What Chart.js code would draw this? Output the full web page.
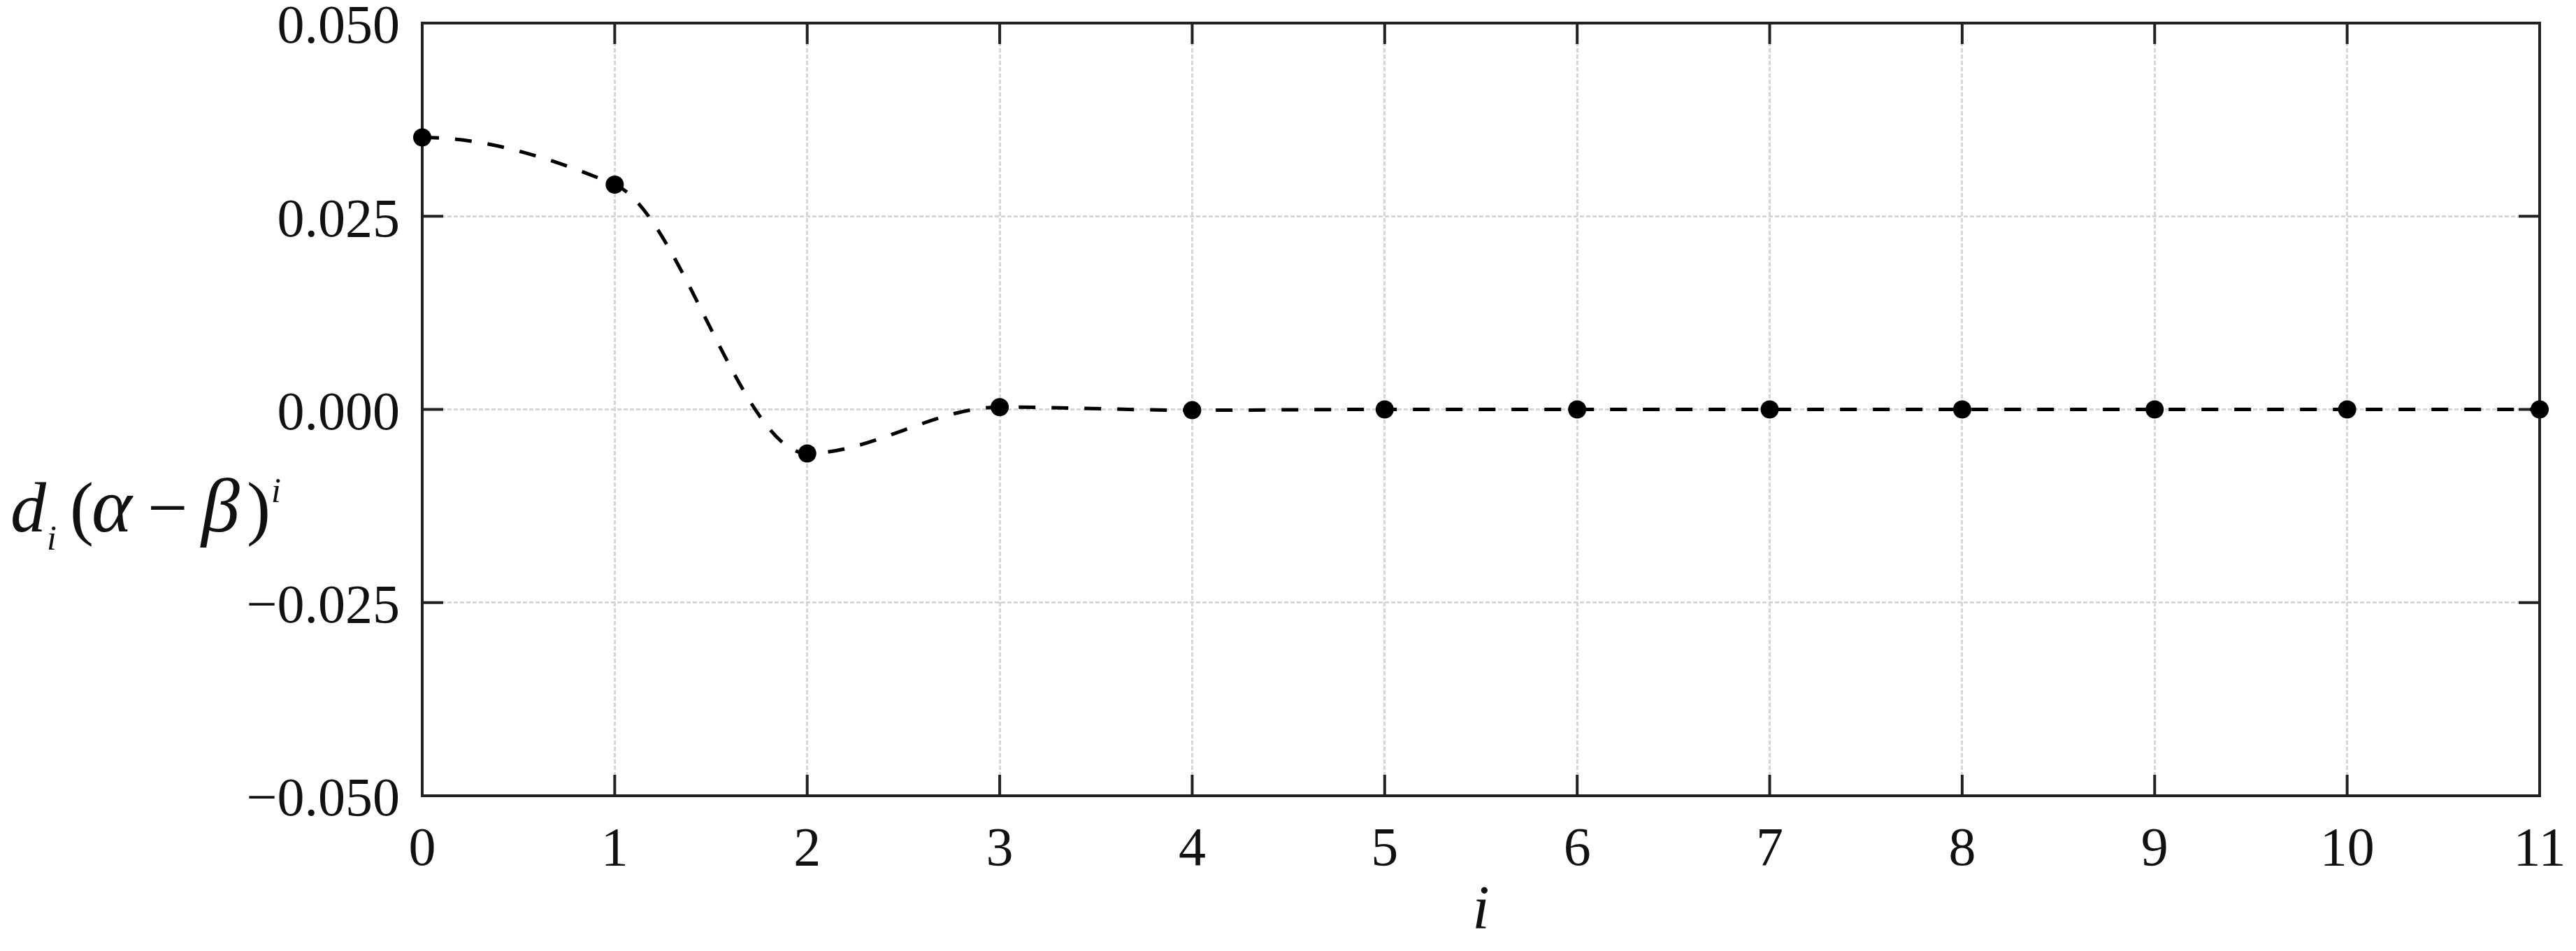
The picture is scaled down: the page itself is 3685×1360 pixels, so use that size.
<!DOCTYPE html>
<html>
<head>
<meta charset="utf-8">
<script src="https://cdn.jsdelivr.net/npm/chart.js@4.4.1/dist/chart.umd.min.js"></script>
<style>
  html, body { margin: 0; padding: 0; background: #fff; }
  #wrap { width: 3685px; height: 1360px; position: relative; }
</style>
</head>
<body>
<div id="wrap"><canvas id="myChart"></canvas></div>
<script>
// valores
const steps = ['0', '1', '2', '3', '4', '5', '6', '7', '8', '9', '10', '11'];
const values = [0.0352, 0.0291, -0.0057, 0.0003, -0.0001, 0, 0, 0, 0, 0, 0, 0];
const yTicks = [-0.050, -0.025, 0.000, 0.025, 0.050];

const SERIF = '"Liberation Serif", "Times New Roman", serif';
const INK = '#111';

// curva tipo pchip: tangentes planas en los extremos locales
const pchipPlugin = {
    id: 'pchip',
    beforeDatasetDraw(chart, args) {
        const meta = args.meta;
        const pts = meta.data;
        const n = pts.length;
        if (n < 3) return;
        const h = [], d = [];
        for (let k = 0; k < n - 1; k++) {
            h[k] = pts[k + 1].x - pts[k].x;
            d[k] = (pts[k + 1].y - pts[k].y) / h[k];
        }
        const m = new Array(n).fill(0);
        for (let k = 1; k < n - 1; k++) {
            if (d[k - 1] * d[k] > 0) {
                const w1 = 2 * h[k] + h[k - 1], w2 = h[k] + 2 * h[k - 1];
                m[k] = (w1 + w2) / (w1 / d[k - 1] + w2 / d[k]);
            }
        }
        const endSlope = (h0, h1, d0, d1) => {
            let s = ((2 * h0 + h1) * d0 - h0 * d1) / (h0 + h1);
            if (Math.sign(s) !== Math.sign(d0)) s = 0;
            else if (Math.sign(d0) !== Math.sign(d1) && Math.abs(s) > Math.abs(3 * d0)) s = 3 * d0;
            return s;
        };
        m[0] = endSlope(h[0], h[1], d[0], d[1]);
        m[n - 1] = endSlope(h[n - 2], h[n - 3], d[n - 2], d[n - 3]);
        for (let k = 0; k < n; k++) {
            const p = pts[k];
            if (k > 0) { p.cp1x = p.x - h[k - 1] / 3; p.cp1y = p.y - m[k] * h[k - 1] / 3; }
            if (k < n - 1) { p.cp2x = p.x + h[k] / 3; p.cp2y = p.y + m[k] * h[k] / 3; }
        }
        if (meta.dataset) meta.dataset._pointsUpdated = true;
    }
};

// marco completo + marcas de escala hacia dentro, y etiqueta del eje y en horizontal
const framePlugin = {
    id: 'frame',
    beforeDatasetsDraw(chart) {
        const { ctx, chartArea: a, scales: { x, y } } = chart;
        const len = 30;
        ctx.save();
        ctx.strokeStyle = '#222';
        ctx.lineWidth = 4;
        ctx.setLineDash([]);
        ctx.strokeRect(a.left, a.top, a.right - a.left, a.bottom - a.top);
        ctx.beginPath();
        x.ticks.forEach((t, i) => {
            const px = x.getPixelForTick(i);
            ctx.moveTo(px, a.bottom); ctx.lineTo(px, a.bottom - len);
            ctx.moveTo(px, a.top); ctx.lineTo(px, a.top + len);
        });
        y.ticks.forEach(t => {
            const py = y.getPixelForValue(t.value);
            ctx.moveTo(a.left, py); ctx.lineTo(a.left + len, py);
            ctx.moveTo(a.right, py); ctx.lineTo(a.right - len, py);
        });
        ctx.stroke();
        ctx.restore();
    },
    afterDraw(chart) {
        const ctx = chart.ctx;
        const big = 'italic 102px ' + SERIF, greek = 'italic 110px ' + SERIF;
        const up = '102px ' + SERIF, small = 'italic 50px ' + SERIF;
        // [texto, fuente, borde izquierdo de la tinta, linea base]
        const parts = [
            ['d', big, 18, 760],
            ['i', small, 69, 786],
            ['(', up, 104, 760],
            ['\u03B1', greek, 134, 760],
            ['\u2212', up, 216, 760],
            ['\u03B2', greek, 286, 760],
            [')', up, 356, 760],
            ['i', small, 390, 718]
        ];
        ctx.save();
        ctx.fillStyle = INK;
        ctx.textBaseline = 'alphabetic';
        ctx.textAlign = 'left';
        parts.forEach(([t, f, left, base]) => {
            ctx.font = f;
            const mt = ctx.measureText(t);
            ctx.fillText(t, left + mt.actualBoundingBoxLeft, base);
        });
        ctx.restore();
    }
};

const ctx = document.getElementById('myChart').getContext('2d');
const myChart = new Chart(ctx, {
    type: 'line',
    data: {
        labels: steps,
        datasets: [{
            data: values,
            borderColor: '#000',
            borderWidth: 5,
            borderDash: [24, 23],
            cubicInterpolationMode: 'monotone',
            pointRadius: 13,
            pointBackgroundColor: '#000',
            pointBorderWidth: 0,
            fill: false,
            clip: false
        }]
    },
    options: {
        responsive: true,
        maintainAspectRatio: false,
        animation: false,
        devicePixelRatio: 1,
        layout: { padding: { left: 0, right: 52, top: 33, bottom: 0 } },
        plugins: {
            legend: { display: false },
            tooltip: { enabled: false }
        },
        scales: {
            x: {
                offset: false,
                border: { display: false, dash: [6, 3] },
                grid: {
                    color: '#d6d6d6',
                    lineWidth: 3,
                    drawTicks: false
                },
                ticks: {
                    autoSkip: false,
                    maxRotation: 0,
                    padding: 40,
                    color: INK,
                    font: { family: SERIF, size: 78, lineHeight: 1 }
                },
                title: {
                    display: true,
                    text: 'i',
                    color: INK,
                    font: { family: SERIF, size: 88, style: 'italic', lineHeight: 1 },
                    padding: { top: 0, bottom: 12 }
                },
                afterFit(scale) {
                    scale.height = 222;
                    scale.paddingLeft = 0;
                    scale.paddingRight = 0;
                }
            },
            y: {
                min: -0.05,
                max: 0.05,
                border: { display: false, dash: [6, 3] },
                grid: {
                    color: '#d6d6d6',
                    lineWidth: 3,
                    drawTicks: false
                },
                afterBuildTicks(scale) {
                    scale.ticks = yTicks.map(v => ({ value: v }));
                },
                ticks: {
                    padding: 32,
                    labelOffset: 8,
                    color: INK,
                    font: { family: SERIF, size: 78, lineHeight: 1 },
                    callback: v => (v < -1e-9 ? '\u2212' : '') + Math.abs(v).toFixed(3)
                },
                afterFit(scale) {
                    scale.width = 604;
                    scale.paddingTop = 0;
                    scale.paddingBottom = 0;
                }
            }
        }
    },
    plugins: [pchipPlugin, framePlugin]
});
</script>
</body>
</html>
